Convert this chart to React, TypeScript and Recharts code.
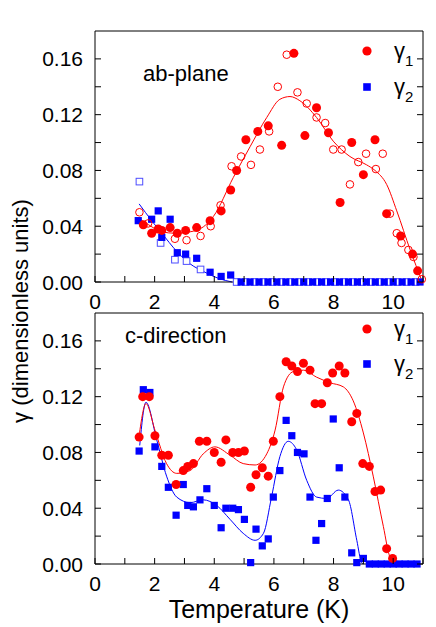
import { ComposedChart, Scatter, Line, XAxis, YAxis } from 'recharts'

const FONT = '"Liberation Sans", Arial, Helvetica, sans-serif'

// axis ticks
const xTicks = [0, 1, 2, 3, 4, 5, 6, 7, 8, 9, 10, 11]
const yTicks = [0, 0.02, 0.04, 0.06, 0.08, 0.1, 0.12, 0.14, 0.16]

// ab-plane, gamma1 (filled and open symbols)
const abGamma1 = [
  { x: 1.62, y: 0.041 }, { x: 1.9, y: 0.035 }, { x: 2.12, y: 0.038 }, { x: 2.24, y: 0.037 },
  { x: 2.52, y: 0.039 }, { x: 2.76, y: 0.035 }, { x: 3.04, y: 0.037 }, { x: 3.41, y: 0.039 },
  { x: 3.86, y: 0.044 }, { x: 4.23, y: 0.051 }, { x: 4.55, y: 0.066 }, { x: 4.75, y: 0.08 },
  { x: 5.06, y: 0.102 }, { x: 5.46, y: 0.108 }, { x: 5.81, y: 0.112 }, { x: 6.26, y: 0.098 },
  { x: 6.67, y: 0.164 }, { x: 7.04, y: 0.105 }, { x: 7.43, y: 0.125 }, { x: 7.83, y: 0.107 },
  { x: 8.22, y: 0.057 }, { x: 8.61, y: 0.1 }, { x: 9.0, y: 0.077 }, { x: 9.39, y: 0.102 },
  { x: 9.78, y: 0.049 }, { x: 10.25, y: 0.033 }, { x: 10.65, y: 0.02 }, { x: 10.82, y: 0.008 },
]
const abGamma1Open = [
  { x: 1.49, y: 0.05 }, { x: 1.78, y: 0.042 }, { x: 2.68, y: 0.031 }, { x: 3.07, y: 0.03 },
  { x: 3.54, y: 0.033 }, { x: 3.88, y: 0.04 }, { x: 4.21, y: 0.055 }, { x: 4.58, y: 0.083 },
  { x: 4.9, y: 0.09 }, { x: 5.23, y: 0.084 }, { x: 5.53, y: 0.095 }, { x: 5.84, y: 0.108 },
  { x: 6.13, y: 0.14 }, { x: 6.43, y: 0.163 }, { x: 6.79, y: 0.136 }, { x: 7.1, y: 0.128 },
  { x: 7.43, y: 0.118 }, { x: 7.72, y: 0.114 }, { x: 7.99, y: 0.095 }, { x: 8.27, y: 0.095 },
  { x: 8.55, y: 0.07 }, { x: 8.83, y: 0.086 }, { x: 9.09, y: 0.092 }, { x: 9.42, y: 0.081 },
  { x: 9.65, y: 0.092 }, { x: 9.89, y: 0.049 }, { x: 10.12, y: 0.035 }, { x: 10.28, y: 0.028 },
  { x: 10.51, y: 0.023 }, { x: 10.68, y: 0.018 }, { x: 10.96, y: 0.002 },
]
// ab-plane, gamma2
const abGamma2 = [
  { x: 1.45, y: 0.044 }, { x: 1.9, y: 0.045 }, { x: 2.12, y: 0.051 }, { x: 2.24, y: 0.032 },
  { x: 2.52, y: 0.045 }, { x: 2.76, y: 0.021 }, { x: 3.04, y: 0.02 }, { x: 3.41, y: 0.017 },
  { x: 3.86, y: 0.007 }, { x: 4.23, y: 0.004 }, { x: 4.55, y: 0.005 },
  { x: 4.9, y: 0 }, { x: 5.2, y: 0 }, { x: 5.5, y: 0 }, { x: 5.8, y: 0 }, { x: 6.1, y: 0 },
  { x: 6.4, y: 0 }, { x: 6.7, y: 0 }, { x: 7.0, y: 0 }, { x: 7.3, y: 0 }, { x: 7.6, y: 0 },
  { x: 7.9, y: 0 }, { x: 8.2, y: 0 }, { x: 8.5, y: 0 }, { x: 8.8, y: 0 }, { x: 9.1, y: 0 },
  { x: 9.4, y: 0 }, { x: 9.7, y: 0 }, { x: 10.0, y: 0 }, { x: 10.3, y: 0 }, { x: 10.6, y: 0 },
  { x: 10.9, y: 0 },
]
const abGamma2Open = [
  { x: 1.49, y: 0.072 }, { x: 2.2, y: 0.028 }, { x: 2.68, y: 0.016 }, { x: 3.07, y: 0.015 },
  { x: 3.54, y: 0.009 }, { x: 4.75, y: 0 }, { x: 5.05, y: 0 }, { x: 5.35, y: 0 }, { x: 5.65, y: 0 },
  { x: 5.95, y: 0 }, { x: 6.25, y: 0 }, { x: 6.55, y: 0 }, { x: 6.85, y: 0 }, { x: 7.15, y: 0 },
  { x: 7.45, y: 0 }, { x: 7.75, y: 0 }, { x: 8.05, y: 0 }, { x: 8.35, y: 0 }, { x: 8.65, y: 0 },
  { x: 8.95, y: 0 }, { x: 9.25, y: 0 }, { x: 9.55, y: 0 }, { x: 9.85, y: 0 }, { x: 10.15, y: 0 },
  { x: 10.45, y: 0 }, { x: 10.75, y: 0 },
]
const abFit1 = [
  { x: 1.45, y: 0.046 }, { x: 1.8, y: 0.041 }, { x: 2.24, y: 0.036 }, { x: 2.68, y: 0.035 },
  { x: 3.19, y: 0.036 }, { x: 3.63, y: 0.0395 }, { x: 3.97, y: 0.047 }, { x: 4.64, y: 0.075 },
  { x: 5.2, y: 0.097 }, { x: 5.76, y: 0.118 }, { x: 6.2, y: 0.131 }, { x: 6.54, y: 0.133 },
  { x: 6.87, y: 0.13 }, { x: 7.43, y: 0.118 }, { x: 7.99, y: 0.101 }, { x: 8.55, y: 0.09 },
  { x: 9.11, y: 0.084 }, { x: 9.39, y: 0.08 }, { x: 9.78, y: 0.07 }, { x: 10.12, y: 0.051 },
  { x: 10.57, y: 0.023 }, { x: 10.96, y: 0.001 },
]
const abFit2 = [
  { x: 1.48, y: 0.056 }, { x: 1.9, y: 0.044 }, { x: 2.24, y: 0.035 }, { x: 2.74, y: 0.022 },
  { x: 3.19, y: 0.013 }, { x: 3.69, y: 0.007 }, { x: 4.14, y: 0.0026 }, { x: 4.6, y: 0 },
]

// c-direction
const cGamma1 = [
  { x: 1.48, y: 0.091 }, { x: 1.6, y: 0.12 }, { x: 1.82, y: 0.12 }, { x: 2.01, y: 0.092 },
  { x: 2.24, y: 0.078 }, { x: 2.46, y: 0.078 }, { x: 2.72, y: 0.057 }, { x: 2.96, y: 0.067 },
  { x: 3.11, y: 0.07 }, { x: 3.3, y: 0.072 }, { x: 3.5, y: 0.088 }, { x: 3.75, y: 0.088 },
  { x: 4.0, y: 0.08 }, { x: 4.23, y: 0.073 }, { x: 4.39, y: 0.089 }, { x: 4.62, y: 0.08 },
  { x: 4.81, y: 0.08 }, { x: 5.01, y: 0.081 }, { x: 5.22, y: 0.055 }, { x: 5.4, y: 0.064 },
  { x: 5.61, y: 0.069 }, { x: 5.81, y: 0.063 }, { x: 5.98, y: 0.088 }, { x: 6.2, y: 0.12 },
  { x: 6.41, y: 0.145 }, { x: 6.6, y: 0.142 }, { x: 6.79, y: 0.138 }, { x: 6.99, y: 0.144 },
  { x: 7.21, y: 0.139 }, { x: 7.38, y: 0.115 }, { x: 7.6, y: 0.115 }, { x: 7.79, y: 0.13 },
  { x: 7.97, y: 0.137 }, { x: 8.19, y: 0.142 }, { x: 8.38, y: 0.137 }, { x: 8.61, y: 0.102 },
  { x: 8.78, y: 0.108 }, { x: 8.98, y: 0.072 }, { x: 9.2, y: 0.07 }, { x: 9.39, y: 0.052 },
  { x: 9.58, y: 0.053 }, { x: 9.78, y: 0.011 }, { x: 9.98, y: 0.004 },
]
const cGamma2 = [
  { x: 1.48, y: 0.081 }, { x: 1.62, y: 0.125 }, { x: 1.84, y: 0.123 }, { x: 2.01, y: 0.084 },
  { x: 2.24, y: 0.07 }, { x: 2.46, y: 0.055 }, { x: 2.72, y: 0.035 }, { x: 2.96, y: 0.057 },
  { x: 3.11, y: 0.042 }, { x: 3.3, y: 0.041 }, { x: 3.52, y: 0.046 }, { x: 3.75, y: 0.054 },
  { x: 4.0, y: 0.042 }, { x: 4.23, y: 0.026 }, { x: 4.39, y: 0.04 }, { x: 4.62, y: 0.04 },
  { x: 4.81, y: 0.039 }, { x: 5.01, y: 0.032 }, { x: 5.22, y: 0.001 }, { x: 5.4, y: 0.025 },
  { x: 5.61, y: 0.013 }, { x: 5.81, y: 0.018 }, { x: 5.98, y: 0.048 }, { x: 6.2, y: 0.067 },
  { x: 6.41, y: 0.103 }, { x: 6.6, y: 0.092 }, { x: 6.79, y: 0.08 }, { x: 7.01, y: 0.079 },
  { x: 7.21, y: 0.048 }, { x: 7.41, y: 0.017 }, { x: 7.6, y: 0.029 }, { x: 7.79, y: 0.047 },
  { x: 7.99, y: 0.104 }, { x: 8.19, y: 0.069 }, { x: 8.38, y: 0.048 }, { x: 8.61, y: 0.008 },
  { x: 8.78, y: 0.001 }, { x: 9.0, y: 0.004 }, { x: 9.2, y: 0 }, { x: 9.4, y: 0 }, { x: 9.6, y: 0 },
  { x: 9.8, y: 0 }, { x: 10.0, y: 0 }, { x: 10.2, y: 0 }, { x: 10.4, y: 0 }, { x: 10.6, y: 0 },
  { x: 10.8, y: 0 },
]
const cFit1 = [
  { x: 1.48, y: 0.092 }, { x: 1.71, y: 0.115 }, { x: 2.01, y: 0.096 }, { x: 2.4, y: 0.072 },
  { x: 2.74, y: 0.065 }, { x: 3.19, y: 0.067 }, { x: 3.63, y: 0.079 }, { x: 4.02, y: 0.084 },
  { x: 4.53, y: 0.078 }, { x: 4.97, y: 0.072 }, { x: 5.37, y: 0.071 }, { x: 5.76, y: 0.079 },
  { x: 6.04, y: 0.096 }, { x: 6.32, y: 0.127 }, { x: 6.65, y: 0.138 }, { x: 6.99, y: 0.139 },
  { x: 7.43, y: 0.134 }, { x: 7.88, y: 0.13 }, { x: 8.33, y: 0.127 }, { x: 8.66, y: 0.117 },
  { x: 9.0, y: 0.094 }, { x: 9.33, y: 0.063 }, { x: 9.67, y: 0.027 }, { x: 9.9, y: 0.005 },
  { x: 10.12, y: 0.002 }, { x: 10.79, y: 0.001 },
]
const cFit2 = [
  { x: 1.5, y: 0.085 }, { x: 1.71, y: 0.116 }, { x: 2.07, y: 0.089 }, { x: 2.4, y: 0.063 },
  { x: 2.74, y: 0.048 }, { x: 3.19, y: 0.044 }, { x: 3.63, y: 0.046 }, { x: 4.08, y: 0.042 },
  { x: 4.53, y: 0.032 }, { x: 4.97, y: 0.022 }, { x: 5.37, y: 0.017 }, { x: 5.65, y: 0.022 },
  { x: 5.92, y: 0.048 }, { x: 6.2, y: 0.077 }, { x: 6.48, y: 0.088 }, { x: 6.76, y: 0.082 },
  { x: 7.1, y: 0.06 }, { x: 7.43, y: 0.048 }, { x: 7.77, y: 0.047 }, { x: 8.16, y: 0.053 },
  { x: 8.5, y: 0.046 }, { x: 8.78, y: 0.017 }, { x: 8.94, y: 0.001 }, { x: 9.0, y: 0 },
]

const RED = '#ff0000'
const BLUE = '#0000ff'

const RedDot = (p: any) => <circle cx={p.cx} cy={p.cy} r={4.5} fill={RED} />
const RedRing = (p: any) => <circle cx={p.cx} cy={p.cy} r={3.8} fill="none" stroke={RED} strokeWidth={1} />
const BlueSquare = (p: any) => <rect x={p.cx - 3.6} y={p.cy - 3.6} width={7.2} height={7.2} fill={BLUE} />
const BlueOpen = (p: any) => (
  <rect x={p.cx - 3.3} y={p.cy - 3.3} width={6.6} height={6.6} fill="#fff" stroke="#4d4dff" strokeWidth={1} />
)

const tickText = { fontFamily: FONT, fontSize: 21, fill: '#000' }

const LeftTick = (p: any) => {
  const v = p.payload.value
  const major = Math.round(v * 100) % 4 === 0
  return (
    <g>
      <line x1={p.x} y1={p.y} x2={p.x + 6} y2={p.y} stroke="#000" />
      {major && (
        <text x={p.x - 12} y={p.y} dy="0.36em" textAnchor="end" {...tickText}>
          {v.toFixed(2)}
        </text>
      )}
    </g>
  )
}
const RightTick = (p: any) => <line x1={p.x} y1={p.y} x2={p.x - 6} y2={p.y} stroke="#000" />
const BottomTick = (p: any) => {
  const v = p.payload.value
  return (
    <g>
      <line x1={p.x} y1={p.y} x2={p.x} y2={p.y - 6} stroke="#000" />
      {v % 2 === 0 && (
        <text x={p.x} y={p.y + 27} textAnchor="middle" {...tickText}>
          {v}
        </text>
      )}
    </g>
  )
}
const TopTick = (p: any) => <line x1={p.x} y1={p.y} x2={p.x} y2={p.y + 6} stroke="#000" />

// plot area runs x 95..423; marginTop + 1px top axis puts the frame top
function Panel({ top, height, marginTop, axisHeight, g1, g1o, g2, g2o, fit1, fit2 }: any) {
  return (
    <div style={{ position: 'absolute', left: 0, top, width: 436, height }}>
      <ComposedChart width={436} height={height} margin={{ top: marginTop, right: 12, bottom: 0, left: 35 }}>
        <XAxis dataKey="x" type="number" domain={[0, 11]} ticks={xTicks} interval={0} height={axisHeight}
          tickSize={0} tickMargin={0} tickLine={false} axisLine={{ stroke: '#000' }} tick={BottomTick} />
        <XAxis xAxisId="t" orientation="top" type="number" domain={[0, 11]} allowDataOverflow ticks={xTicks}
          interval={0} height={1} tickSize={0} tickMargin={0} tickLine={false} axisLine={{ stroke: '#000' }} tick={TopTick} />
        <YAxis dataKey="y" type="number" domain={[0, 0.18]} ticks={yTicks} interval={0} width={60}
          tickSize={0} tickMargin={0} tickLine={false} axisLine={{ stroke: '#000' }} tick={LeftTick} />
        <YAxis yAxisId="r" orientation="right" type="number" domain={[0, 0.18]} allowDataOverflow ticks={yTicks}
          interval={0} width={1} tickSize={0} tickMargin={0} tickLine={false} axisLine={{ stroke: '#000' }} tick={RightTick} />
        {g2o && <Scatter data={g2o} shape={BlueOpen} isAnimationActive={false} />}
        <Scatter data={g2} shape={BlueSquare} isAnimationActive={false} />
        {g1o && <Scatter data={g1o} shape={RedRing} isAnimationActive={false} />}
        <Scatter data={g1} shape={RedDot} isAnimationActive={false} />
        <Line data={fit2} dataKey="y" type="monotone" stroke={BLUE} strokeWidth={1} dot={false} isAnimationActive={false} />
        <Line data={fit1} dataKey="y" type="monotone" stroke={RED} strokeWidth={1} dot={false} isAnimationActive={false} />
      </ComposedChart>
    </div>
  )
}

function Legend({ y1, y2 }: { y1: number; y2: number }) {
  return (
    <g fontFamily={FONT}>
      <circle cx={367} cy={y1} r={4.6} fill={RED} />
      <text x={394} y={y1 + 7} fontSize={22}>
        γ<tspan dy={8} fontSize={15}>1</tspan>
      </text>
      <rect x={363.2} y={y2 - 3.8} width={7.6} height={7.6} fill={BLUE} />
      <text x={394} y={y2 + 7} fontSize={22}>
        γ<tspan dy={8} fontSize={15}>2</tspan>
      </text>
    </g>
  )
}

export default function App() {
  return (
    <div style={{ position: 'absolute', left: 0, top: 0, width: 436, height: 627, background: '#fff' }}>
      <Panel top={0} height={312} marginTop={30} axisHeight={30}
        g1={abGamma1} g1o={abGamma1Open} g2={abGamma2} g2o={abGamma2Open} fit1={abFit1} fit2={abFit2} />
      <Panel top={312} height={315} marginTop={0} axisHeight={63}
        g1={cGamma1} g2={cGamma2} fit1={cFit1} fit2={cFit2} />
      <svg width={436} height={627} style={{ position: 'absolute', left: 0, top: 0, pointerEvents: 'none' }}>
        <text x={143} y={81} fontFamily={FONT} fontSize={22}>ab-plane</text>
        <text x={125} y={343} fontFamily={FONT} fontSize={22}>c-direction</text>
        <Legend y1={51} y2={87} />
        <Legend y1={329} y2={364} />
        <text x={259} y={618} textAnchor="middle" fontFamily={FONT} fontSize={25}>Temperature (K)</text>
        <text transform="translate(28,311) rotate(-90)" textAnchor="middle" fontFamily={FONT} fontSize={22}>
          γ (dimensionless units)
        </text>
      </svg>
    </div>
  )
}
